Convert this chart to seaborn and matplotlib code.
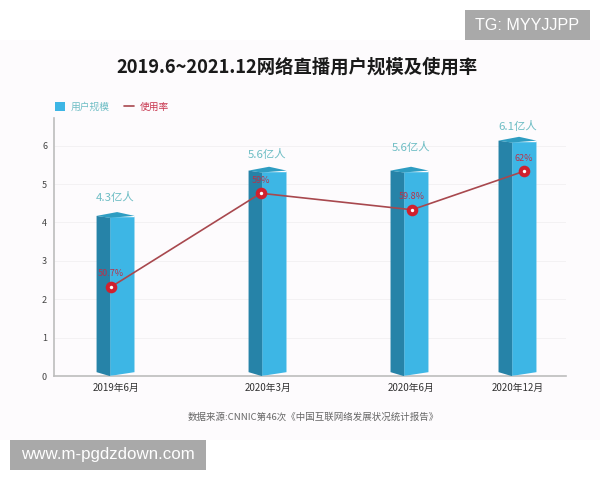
import matplotlib
matplotlib.use('Agg')
import matplotlib.pyplot as plt
from matplotlib.lines import Line2D
from matplotlib.patches import Polygon, Patch, Rectangle
import pandas as pd
import seaborn as sns

# x_slots are spaced like the source chart, which is not to time scale
x_slots = [0.895, 2.895, 4.763, 6.184]
tick_slots = [0.81, 2.81, 4.70, 6.10]
tick_labels = ['2019年6月', '2020年3月', '2020年6月', '2020年12月']
bar_heights = [4.17, 5.35, 5.35, 6.13]
bar_labels = ['4.3亿人', '5.6亿人', '5.6亿人', '6.1亿人']
label_levels = [4.64, 5.78, 5.95, 6.49]
line_slots = [0.75, 2.72, 4.71, 6.18]
rate_levels = [2.32, 4.76, 4.33, 5.33]
rate_labels = ['50.7%', '59%', '59.8%', '62%']

light_blue = '#3DB6E5'
dark_blue = '#2683A8'
top_blue = '#2E9DC2'
teal = '#6DBDC4'
red = '#D0202E'
line_red = '#A8484E'

sns.set_theme(style='white')
plt.rcParams['font.family'] = ['Noto Sans CJK SC', 'DejaVu Sans']

fig = plt.figure(figsize=(6, 4.8), dpi=100, facecolor='white')
fig.patches.append(Rectangle((0, 40 / 480), 1, 400 / 480, transform=fig.transFigure,
                             facecolor='#FDFBFD', edgecolor='none', zorder=-5))
ax = fig.add_axes([54 / 600, 1 - 376 / 480, 512 / 600, 258 / 480])
ax.patch.set_alpha(0)

df = pd.DataFrame({'slot': x_slots, 'users': bar_heights})
sns.barplot(data=df, x='slot', y='users', native_scale=True, width=0.232,
            color=light_blue, saturation=1, ax=ax, zorder=3)

# turn the flat bars into the fake 3D columns
for bar in list(ax.patches):
    x0, w, h = bar.get_x(), bar.get_width(), bar.get_height()
    x1 = x0 + w
    xl = x0 - 0.17
    bar.set_clip_path(Polygon([(x0, 0), (x1, 0.1), (x1, h + 1), (x0, h + 1)], transform=ax.transData))
    ax.add_patch(Polygon([(xl, 0.1), (x0, 0), (x0 + 0.01, 0), (x0 + 0.01, h - 0.05), (xl, h)],
                         facecolor=dark_blue, edgecolor='none', zorder=3))
    ax.add_patch(Polygon([(xl, h), (x0, h - 0.05), (x1, h), (x0 + 0.1, h + 0.1)],
                         facecolor=top_blue, edgecolor='none', zorder=3))

for slot, level, label in zip(tick_slots, label_levels, bar_labels):
    ax.text(slot, level, label, color=teal, fontsize=8.2, fontweight='medium',
            ha='center', va='center', zorder=6, clip_on=False)

sns.lineplot(x=line_slots, y=rate_levels, color=line_red, linewidth=1.2, ax=ax, zorder=4, sort=False)
ax.scatter(line_slots, rate_levels, s=70, color=red, zorder=5, linewidths=0)
ax.scatter(line_slots, rate_levels, s=6, color='white', zorder=6, linewidths=0)
for slot, level, label in zip(line_slots, rate_levels, rate_labels):
    ax.text(slot, level + 0.34, label, color='#B8324A', fontsize=6.5, fontweight='medium',
            ha='center', va='center', zorder=6)

ax.set_xlim(0, 6.737)
ax.set_ylim(0, 6.72)
ax.set_xticks(tick_slots)
ax.set_xticklabels(tick_labels, fontsize=7, fontweight='medium', color='#333333')
ax.set_yticks(range(7))
ax.set_yticklabels([str(i) for i in range(7)], fontsize=6.5, color='#444444')
ax.set_xlabel('')
ax.set_ylabel('')
ax.tick_params(axis='both', length=0, pad=5)
ax.grid(axis='y', color='#F3F1F3', linewidth=0.7)
ax.set_axisbelow(True)
for side in ['top', 'right']:
    ax.spines[side].set_visible(False)
for side in ['left', 'bottom']:
    ax.spines[side].set_color('#BDBDBD')
    ax.spines[side].set_linewidth(1.2)

handles = [Patch(facecolor=light_blue, edgecolor='none'),
           Line2D([0], [0], color=line_red, linewidth=1.2)]
ax.legend(handles, ['用户规模', '使用率'], ncol=2, frameon=False, fontsize=7,
          labelcolor=[teal, '#C8374F'], loc='lower left', bbox_to_anchor=(-0.002, 1.017),
          handlelength=1.0, handleheight=1.1, columnspacing=1.5, handletextpad=0.6, borderpad=0, borderaxespad=0.2)

fig.text(297 / 600, 1 - 67 / 480, '2019.6~2021.12网络直播用户规模及使用率', fontsize=13.2,
         fontweight='bold', color='#1A1A1A', ha='center', va='center')
fig.text(313 / 600, 1 - 417 / 480, '数据来源:CNNIC第46次《中国互联网络发展状况统计报告》', fontsize=6.8,
         color='#666666', ha='center', va='center')

# watermark boxes
for x, y, w, h, size, label in [(465, 10, 125, 30, 11.6, 'TG: MYYJJPP'),
                                (10, 440, 196, 30, 12.2, 'www.m-pgdzdown.com')]:
    fig.patches.append(Rectangle((x / 600, 1 - (y + h) / 480), w / 600, h / 480, transform=fig.transFigure,
                                 facecolor='#A9A9A9', edgecolor='none', zorder=10))
    fig.text((x + w / 2) / 600, 1 - (y + h / 2) / 480, label, color='white', fontsize=size,
             ha='center', va='center', zorder=11, family=['Liberation Sans', 'DejaVu Sans'])

fig.savefig('out.png', dpi=100, facecolor='white')
